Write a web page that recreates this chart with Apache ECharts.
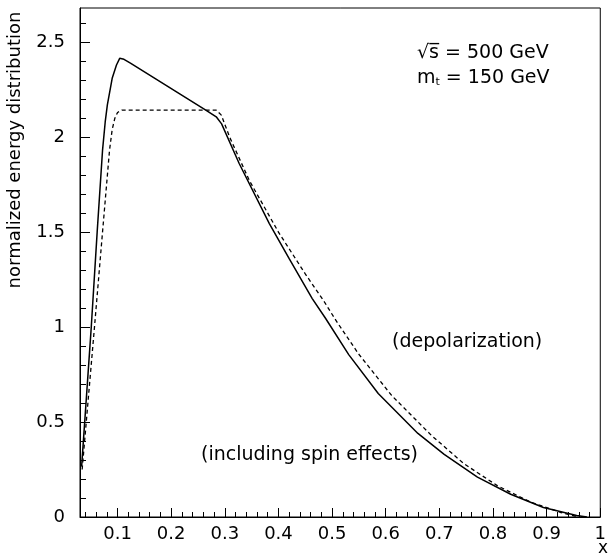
<!DOCTYPE html>
<html>
<head>
<meta charset="utf-8">
<script src="https://cdn.jsdelivr.net/npm/echarts@6/dist/echarts.min.js"></script>
<style>
html,body{margin:0;padding:0;background:#fff;}
#chart{width:609px;height:555px;}
</style>
</head>
<body>
<div id="chart"></div>
<script>
// Solid curve: including spin effects
const spinX = [0.033,0.051,0.062,0.072,0.077,0.081,0.090,0.098,0.104,0.107,0.112,0.124,0.192,0.266,0.284,0.294,0.327,0.383,0.420,0.463,0.488,0.531,0.586,0.660,0.709,0.771,0.833,0.894,0.956,0.975];
const spinY = [0.265,1.00,1.50,1.93,2.08,2.17,2.31,2.38,2.415,2.42,2.41,2.39,2.27,2.14,2.107,2.07,1.86,1.545,1.36,1.15,1.045,0.855,0.65,0.44,0.33,0.21,0.12,0.05,0.008,0.0];
// Dashed curve: depolarization
const depX = [0.034,0.057,0.072,0.085,0.090,0.095,0.100,0.108,0.284,0.2935,0.309,0.346,0.400,0.450,0.484,0.506,0.549,0.611,0.685,0.746,0.808,0.869,0.925,0.960];
const depY = [0.25,1.00,1.50,1.93,2.04,2.10,2.13,2.142,2.142,2.116,2.00,1.77,1.50,1.28,1.14,1.04,0.86,0.64,0.43,0.28,0.165,0.08,0.025,0.0];

const xMajor = [0.1,0.2,0.3,0.4,0.5,0.6,0.7,0.8,0.9,1.0];
const xMajorLabels = ['0.1','0.2','0.3','0.4','0.5','0.6','0.7','0.8','0.9','1'];
const xMinor = [0.04,0.06,0.08,0.12,0.14,0.16,0.18,0.22,0.24,0.26,0.28,0.32,0.34,0.36,0.38,0.42,0.44,0.46,0.48,0.52,0.54,0.56,0.58,0.62,0.64,0.66,0.68,0.72,0.74,0.76,0.78,0.82,0.84,0.86,0.88,0.92,0.94,0.96,0.98];
const yMajor = [0,0.5,1,1.5,2,2.5];
const yMajorLabels = ['0','0.5','1','1.5','2','2.5'];
const yMinor = [0.1,0.2,0.3,0.4,0.6,0.7,0.8,0.9,1.1,1.2,1.3,1.4,1.6,1.7,1.8,1.9,2.1,2.2,2.3,2.4,2.6];

const FONT = 'DejaVu Sans';
const chart = echarts.init(document.getElementById('chart'));
const xBase = {
  type: 'value', min: 0.03, max: 1, position: 'bottom',
  splitLine: {show: false}
};
const yBase = {
  type: 'value', min: 0, max: 2.68, position: 'left',
  splitLine: {show: false}
};
chart.setOption({
  animation: false,
  backgroundColor: '#fff',
  grid: {left: 80, right: 5, top: 8, bottom: 38, show: true, borderColor: '#000', borderWidth: 1},
  xAxis: [
    Object.assign({}, xBase, {
      axisLine: {show: true, lineStyle: {color: '#000', width: 1}},
      axisTick: {show: true, inside: true, length: 9, lineStyle: {color: '#000'}, customValues: xMajor},
      axisLabel: {show: true, color: '#000', fontFamily: FONT, fontSize: 18, margin: 8,
        customValues: xMajor,
        formatter: function (v) { const i = xMajor.findIndex(m => Math.abs(m - v) < 1e-6); return i >= 0 ? xMajorLabels[i] : ''; }}
    }),
    Object.assign({}, xBase, {
      axisLine: {show: false},
      axisTick: {show: true, inside: true, length: 5, lineStyle: {color: '#000'}, customValues: xMinor},
      axisLabel: {show: false}
    })
  ],
  yAxis: [
    Object.assign({}, yBase, {
      axisLine: {show: true, lineStyle: {color: '#000', width: 1}},
      axisTick: {show: true, inside: true, length: 10, lineStyle: {color: '#000'}, customValues: yMajor},
      axisLabel: {show: true, color: '#000', fontFamily: FONT, fontSize: 18, margin: 15,
        customValues: yMajor,
        formatter: function (v) { const i = yMajor.findIndex(m => Math.abs(m - v) < 1e-6); return i >= 0 ? yMajorLabels[i] : ''; }}
    }),
    Object.assign({}, yBase, {
      axisLine: {show: false},
      axisTick: {show: true, inside: true, length: 6, lineStyle: {color: '#000'}, customValues: yMinor},
      axisLabel: {show: false}
    })
  ],
  series: [
    {
      name: 'including spin effects', type: 'line', xAxisIndex: 0, yAxisIndex: 0,
      data: spinX.map((x, i) => [x, spinY[i]]),
      showSymbol: false, symbol: 'none', smooth: false,
      lineStyle: {color: '#000', width: 1.5, type: 'solid'}
    },
    {
      name: 'depolarization', type: 'line', xAxisIndex: 0, yAxisIndex: 0,
      data: depX.map((x, i) => [x, depY[i]]),
      showSymbol: false, symbol: 'none', smooth: false,
      lineStyle: {color: '#000', width: 1.3, type: [4, 3]}
    }
  ],
  graphic: [
    {type: 'text', x: 15, y: 150, rotation: Math.PI / 2,
      style: {text: 'normalized energy distribution', fill: '#000', font: '18px "DejaVu Sans"', textAlign: 'center', textVerticalAlign: 'middle'}},
    {type: 'text', x: 417, y: 53,
      style: {text: '√s̅ = 500 GeV', fill: '#000', font: '19px "DejaVu Sans"', textAlign: 'left', textVerticalAlign: 'middle'}},
    {type: 'text', x: 417, y: 78,
      style: {text: '{a|m}{s|t}{a| = 150 GeV}', fill: '#000', textAlign: 'left', textVerticalAlign: 'middle',
        rich: {a: {fontFamily: FONT, fontSize: 19, fill: '#000'}, s: {fontFamily: FONT, fontSize: 11, fill: '#000', padding: [9, 0, 0, 0]}}}},
    {type: 'text', x: 392, y: 342,
      style: {text: '(depolarization)', fill: '#000', font: '19px "DejaVu Sans"', textAlign: 'left', textVerticalAlign: 'middle'}},
    {type: 'text', x: 201, y: 455,
      style: {text: '(including spin effects)', fill: '#000', font: '19px "DejaVu Sans"', textAlign: 'left', textVerticalAlign: 'middle'}},
    {type: 'text', x: 603, y: 549,
      style: {text: 'x', fill: '#000', font: '17px "DejaVu Sans"', textAlign: 'center', textVerticalAlign: 'middle'}}
  ]
});
</script>
</body>
</html>
